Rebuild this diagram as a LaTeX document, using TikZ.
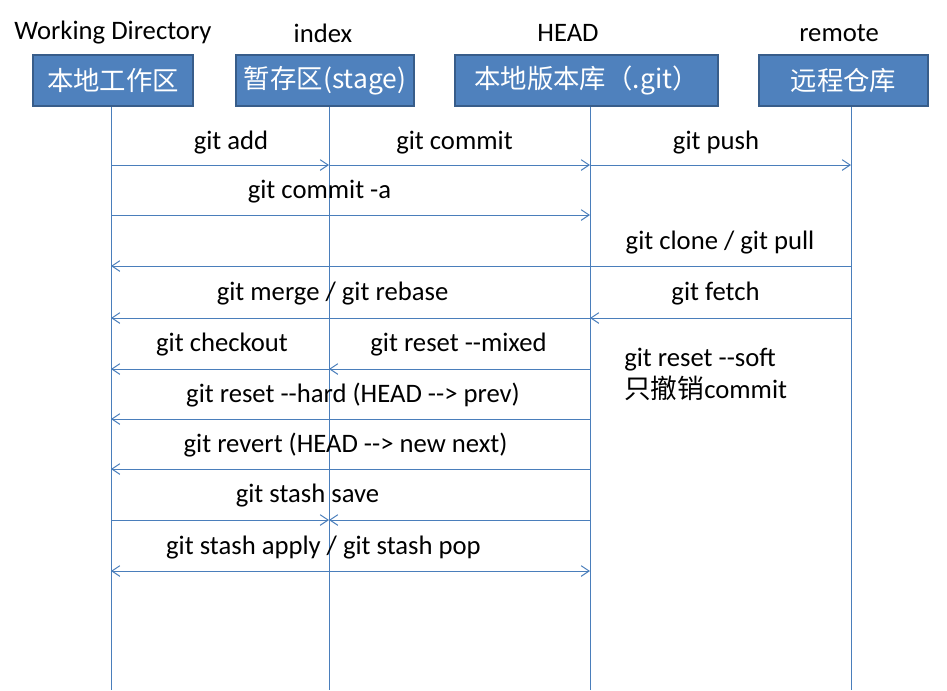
\documentclass[tikz,border=0pt]{standalone}
\usepackage{fontspec}
\setmainfont{Carlito}
\newfontfamily\cjk{Noto Sans CJK SC}
\usetikzlibrary{arrows.meta}
\definecolor{boxfill}{HTML}{4F81BD}
\definecolor{boxline}{HTML}{385D8A}
\definecolor{lineblue}{HTML}{4A7EBB}
\tikzset{>={Straight Barb[length=6pt,width=8pt]},
  box/.style={draw=boxline,line width=1.5pt,fill=boxfill,text=white,font=\cjk\fontsize{19.8}{22}\selectfont,minimum height=38pt,inner sep=0pt},
  life/.style={draw=lineblue,line width=0.75pt},
  msg/.style={life,->},
  lbl/.style={font=\fontsize{20}{24}\selectfont,inner sep=0pt,yshift=-1.5pt}}
\begin{document}
\begin{tikzpicture}[x=0.75pt,y=-0.75pt]
\useasboundingbox (0,0) rectangle (947,690);
\node[lbl] (wdT) at (113,31) {Working Directory};
\node[lbl] (idxT) at (323,31) {index};
\node[lbl] (headT) at (568,31) {HEAD};
\node[lbl] (remT) at (839,31) {remote};
\coordinate (wdL) at (111,106);
\coordinate (idxL) at (329,106);
\coordinate (headL) at (590,106);
\coordinate (remL) at (851,106);
\coordinate (bot) at (0,690);
\draw[life] (wdL) -- (wdL |- bot);
\draw[life] (idxL) -- (idxL |- bot);
\draw[life] (headL) -- (headL |- bot);
\draw[life] (remL) -- (remL |- bot);
\node[box,minimum width=120pt] (wd) at (113,80.5) {本地工作区};
\node[box,minimum width=133.5pt] (idx) at (325,80.5) {暂存区(stage)};
\node[box,minimum width=197pt] (head) at (586.5,80.5) {本地版本库（.git）};
\node[box,minimum width=127pt] (rem) at (843.5,80.5) {远程仓库};
\coordinate (r1) at (0,165);
\coordinate (r2) at (0,215);
\coordinate (r3) at (0,266);
\coordinate (r4) at (0,318);
\coordinate (r5) at (0,369);
\coordinate (r6) at (0,419);
\coordinate (r7) at (0,469);
\coordinate (r8) at (0,520);
\coordinate (r9) at (0,571);
\draw[msg] (wdL |- r1) -- (idxL |- r1);
\draw[msg] (idxL |- r1) -- (headL |- r1);
\draw[msg] (headL |- r1) -- (remL |- r1);
\draw[msg] (wdL |- r2) -- (headL |- r2);
\draw[msg] (remL |- r3) -- (wdL |- r3);
\draw[msg] (headL |- r4) -- (wdL |- r4);
\draw[msg] (remL |- r4) -- (headL |- r4);
\draw[msg] (idxL |- r5) -- (wdL |- r5);
\draw[msg] (headL |- r5) -- (idxL |- r5);
\draw[msg] (headL |- r6) -- (wdL |- r6);
\draw[msg] (headL |- r7) -- (wdL |- r7);
\draw[msg] (wdL |- r8) -- (idxL |- r8);
\draw[msg] (headL |- r8) -- (idxL |- r8);
\draw[life,<->] (wdL |- r9) -- (headL |- r9);
\node[lbl] (add) at (231,141) {git add};
\node[lbl] (commit) at (454.5,141) {git commit};
\node[lbl] (push) at (716,141) {git push};
\node[lbl] (commita) at (319.5,190) {git commit -a};
\node[lbl] (clone) at (720,241) {git clone / git pull};
\node[lbl] (merge) at (332.5,292) {git merge / git rebase};
\node[lbl] (fetch) at (715.5,292) {git fetch};
\node[lbl] (checkout) at (222,343) {git checkout};
\node[lbl] (mixed) at (458.5,343) {git reset -{}-mixed};
\node[lbl,align=left,anchor=west] (soft) at (624,372) {git reset -{}-soft\\{\cjk 只撤销}commit};
\node[lbl] (hard) at (353,393) {git reset -{}-hard (HEAD -{}-> prev)};
\node[lbl] (revert) at (345.5,443) {git revert (HEAD -{}-> new next)};
\node[lbl] (save) at (307.5,494) {git stash save};
\node[lbl] (apply) at (323.5,546) {git stash apply / git stash pop};
\end{tikzpicture}
\end{document}
